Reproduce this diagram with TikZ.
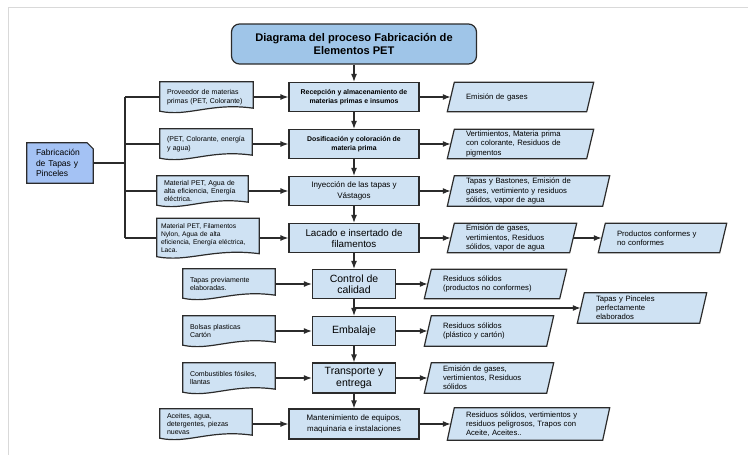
\documentclass[tikz,border=0pt]{standalone}
\usepackage{fontspec}
\setmainfont{Liberation Sans}
\usetikzlibrary{arrows.meta,calc,backgrounds}

\definecolor{azulclaro}{HTML}{CFE2F3}
\definecolor{azultitulo}{HTML}{9FC5E8}
\definecolor{azulfab}{HTML}{A4C2F4}
\definecolor{borde}{HTML}{2B2B2B}
\hyphenpenalty=10000

\begin{document}
\begin{tikzpicture}[x=1pt,y=-1pt,
    titulo/.style={draw=borde, line width=1.2pt, fill=azultitulo, rounded corners=8pt,
        minimum width=245pt, minimum height=40pt, align=center,
        font=\fontsize{11.1}{13.5}\selectfont\bfseries},
    origen/.style={minimum width=66pt, minimum height=40pt, text width=48pt, inner xsep=9pt,
        align=left, font=\fontsize{8.5}{10.5}\selectfont},
    proceso/.style={draw=borde, line width=1.2pt, fill=azulclaro, minimum height=29pt,
        align=center, inner sep=2pt},
    documento/.style={minimum height=30pt, text width=#1, inner xsep=7pt, inner ysep=1pt,
        align=left, font=\fontsize{7}{8.4}\selectfont},
    salida/.style={minimum height=29pt, text width=#1, inner xsep=15pt, inner ysep=0.5pt,
        align=left, font=\fontsize{7.7}{9.2}\selectfont},
    forma/.style={draw=borde, line width=1.2pt, fill=azulclaro},
    flecha/.style={draw=borde, line width=1.2pt, -{Latex[length=8pt,width=6pt]}},
    linea/.style={draw=borde, line width=1.2pt}
]
    \useasboundingbox (0,0) rectangle (748,455);
    % Marco de la captura
    \draw[gray!30, line width=1pt] (8,455) -- (8,7) -- (748,7);

    % Titulo y origen
    \node[titulo] (tit) at (354,44) {Diagrama del proceso Fabricación de\\Elementos PET};
    \node[origen] (fab) at (60,163) {Fabricación\\de Tapas y\\Pinceles};

    % Procesos (columna central)
    \node[proceso, minimum width=130pt, font=\fontsize{6.9}{8.8}\selectfont\bfseries] (p1) at (354,97)
        {Recepción y almacenamiento de\\materias primas e insumos};
    \node[proceso, minimum width=130pt, font=\fontsize{6.9}{8.8}\selectfont\bfseries] (p2) at (354,144)
        {Dosificación y coloración de\\materia prima};
    \node[proceso, minimum width=130pt, font=\fontsize{8}{10.5}\selectfont] (p3) at (354,191)
        {Inyección de las tapas y\\Vástagos};
    \node[proceso, minimum width=130pt, font=\fontsize{9.8}{11}\selectfont] (p4) at (354,238)
        {Lacado e insertado de\\filamentos};
    \node[proceso, minimum width=83pt, font=\fontsize{10.5}{11.5}\selectfont] (p5) at (354,284)
        {Control de\\calidad};
    \node[proceso, minimum width=83pt, font=\fontsize{10.5}{11.5}\selectfont] (p6) at (354,331)
        {Embalaje};
    \node[proceso, minimum width=83pt, minimum height=30pt, font=\fontsize{10.5}{12}\selectfont] (p7) at (354,378)
        {Transporte y\\entrega};
    \node[proceso, minimum width=130pt, minimum height=30pt, font=\fontsize{7.9}{10.5}\selectfont] (p8) at (354,424)
        {Mantenimiento de equipos,\\maquinaria e instalaciones};

    % Entradas (documentos)
    \node[documento=79pt] (d1) at (206.5,97) {Proveedor de materias\\primas (PET, Colorante)};
    \node[documento=78pt] (d2) at (206,144) {(PET, Colorante, energía\\y agua)};
    \node[documento=77pt] (d3) at (202.5,191) {Material PET, Agua de\\alta eficiencia, Energía\\eléctrica.};
    \node[documento=94pt, inner xsep=4pt, minimum height=39pt, font=\fontsize{6.7}{8}\selectfont] (d4) at (208,238)
        {Material PET, Filamentos\\Nylon, Agua de alta\\eficiencia, Energía eléctrica,\\Laca.};
    \node[documento=78pt] (d5) at (229,284) {Tapas previamente\\elaboradas.};
    \node[documento=78pt] (d6) at (229,331) {Bolsas plasticas\\Cartón};
    \node[documento=78pt] (d7) at (229,378) {Combustibles fósiles,\\llantas};
    \node[documento=78pt] (d8) at (206,424) {Aceites, agua,\\detergentes, piezas\\nuevas};

    % Salidas (paralelogramos)
    \node[salida=109pt] (o1) at (520.5,97) {Emisión de gases};
    \node[salida=109pt] (o2) at (520.5,144) {Vertimientos, Materia prima\\con colorante, Residuos de\\pigmentos};
    \node[salida=125pt, minimum height=30pt] (o3) at (528.5,191)
        {Tapas y Bastones, Emisión de\\gases, vertimiento y residuos\\sólidos, vapor de agua};
    \node[salida=92pt] (o4) at (512,238) {Emisión de gases,\\vertimientos, Residuos\\sólidos, vapor de agua};
    \node[salida=91pt] (o5) at (662.5,238) {Productos conformes y\\no conformes};
    \node[salida=105pt] (o6) at (495.5,284) {Residuos sólidos\\(productos no conformes)};
    \node[salida=92pt, minimum height=30pt] (o7) at (642,308) {Tapas y Pinceles\\perfectamente\\elaborados};
    \node[salida=92pt, minimum height=30pt] (o8) at (489,331) {Residuos sólidos\\(plástico y cartón)};
    \node[salida=92pt, minimum height=30pt] (o9) at (489,378) {Emisión de gases,\\vertimientos, Residuos\\sólidos};
    \node[salida=125pt, minimum height=32pt] (o10) at (528.5,424)
        {Residuos sólidos, vertimientos y\\residuos peligrosos, Trapos con\\Aceite, Aceites..};

    % Formas de fondo
    \begin{pgfonlayer}{background}
        \filldraw[forma, fill=azulfab] (fab.north west) -- ([xshift=-6pt]fab.north east)
            -- ([yshift=-6pt]fab.north east) -- (fab.south east) -- (fab.south west) -- cycle;
        \foreach \d in {d1,d2,d3,d4,d5,d6,d7,d8} {
            \filldraw[forma] (\d.north west) -- (\d.north east) -- ([yshift=4pt]\d.south east)
                .. controls ([yshift=10pt]$(\d.south east)!0.45!(\d.south west)$)
                and ([yshift=-5pt]$(\d.south east)!0.7!(\d.south west)$) .. ([yshift=1pt]\d.south west) -- cycle;
        }
        \foreach \o in {o1,o2,o3,o4,o5,o6,o7,o8,o9,o10} {
            \filldraw[forma] ([xshift=3.5pt]\o.north west) -- ([xshift=3.5pt]\o.north east)
                -- ([xshift=-3.5pt]\o.south east) -- ([xshift=-3.5pt]\o.south west) -- cycle;
        }
    \end{pgfonlayer}

    % Tronco de entradas
    \draw[linea] (fab.east) -- (125,163) coordinate (tr);
    \draw[linea] (tr |- d1.west) -- (tr |- d4.west);
    \foreach \d in {d1,d2,d3,d4} {
        \draw[linea] (tr |- \d.west) -- (\d.west);
    }

    % Flechas verticales
    \foreach \a/\b in {tit/p1,p1/p2,p2/p3,p3/p4,p4/p5,p5/p6,p6/p7,p7/p8} {
        \draw[flecha] (\a) -- (\b);
    }

    % Flechas horizontales
    \foreach \i in {1,...,8} {
        \draw[flecha] (d\i) -- (p\i);
    }
    \foreach \p/\o in {p1/o1,p2/o2,p3/o3,p4/o4,o4/o5,p5/o6,p6/o8,p7/o9,p8/o10} {
        \draw[flecha] (\p) -- (\o);
    }
    \draw[flecha] (p5.south) |- (o7);
\end{tikzpicture}
\end{document}
